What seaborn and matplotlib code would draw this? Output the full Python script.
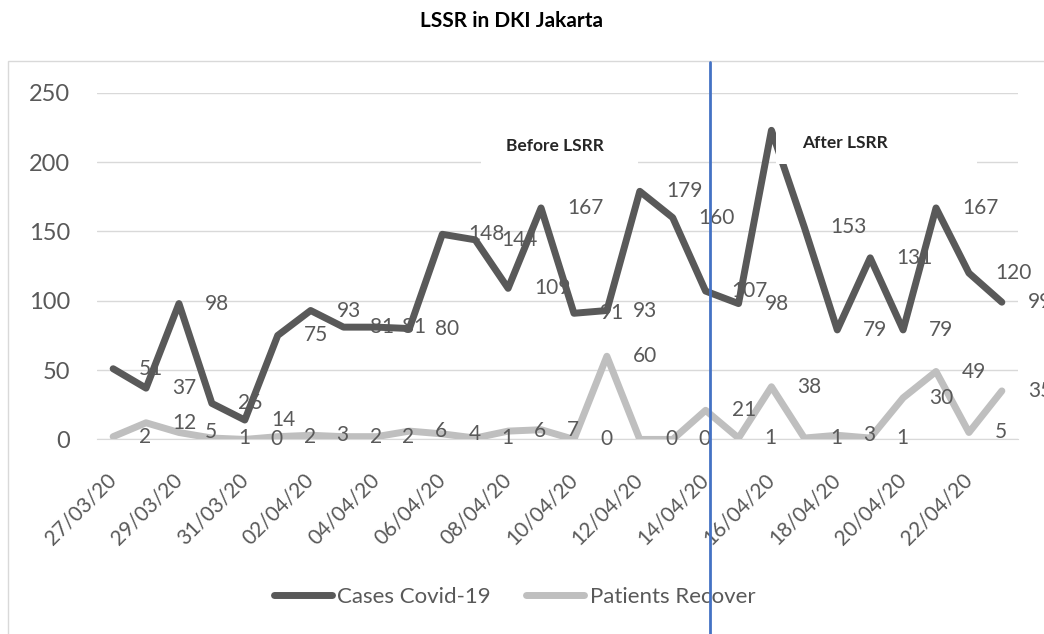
import matplotlib
matplotlib.use("Agg")
import matplotlib.pyplot as plt
import matplotlib.transforms as mtransforms
from matplotlib.lines import Line2D
from matplotlib.patches import Rectangle
import pandas as pd
import seaborn as sns

# --- data ---
dates = ["27/03/20", "28/03/20", "29/03/20", "30/03/20", "31/03/20", "01/04/20", "02/04/20",
         "03/04/20", "04/04/20", "05/04/20", "06/04/20", "07/04/20", "08/04/20", "09/04/20",
         "10/04/20", "11/04/20", "12/04/20", "13/04/20", "14/04/20", "15/04/20", "16/04/20",
         "17/04/20", "18/04/20", "19/04/20", "20/04/20", "21/04/20", "22/04/20", "23/04/20"]
cases = [51, 37, 98, 26, 14, 75, 93, 81, 81, 80, 148, 144, 109, 167,
         91, 93, 179, 160, 107, 98, 223, 153, 79, 131, 79, 167, 120, 99]
recover = [2, 12, 5, 1, 0, 2, 3, 2, 2, 6, 4, 1, 6, 7,
           0, 60, 0, 0, 21, 1, 38, 1, 3, 1, 30, 49, 5, 35]
series_names = ["Cases Covid-19", "Patients Recover"]

df = pd.DataFrame({
    "day": list(range(len(dates))) * 2,
    "value": cases + recover,
    "series": [series_names[0]] * len(dates) + [series_names[1]] * len(dates),
})

sns.set_style("white")
plt.rcParams["font.family"] = ["Lato", "DejaVu Sans"]

DARK = "#595959"
LIGHT = "#BFBFBF"
GRID = "#D9D9D9"
TXT = "#595959"

fig = plt.figure(figsize=(10.44, 6.34), dpi=100)
ax = fig.add_axes([0.0926, 0.3069, 0.8828, 0.5466])

sns.lineplot(data=df, x="day", y="value", hue="series",
             palette={series_names[0]: DARK, series_names[1]: LIGHT},
             linewidth=5, legend=False, ax=ax, zorder=3)

ax.set_xlim(-0.5, len(dates) - 0.5)
ax.set_ylim(0, 250)
ax.set_yticks(range(0, 251, 50))
ax.yaxis.grid(True, color=GRID, linewidth=1)
ax.set_axisbelow(True)
for s in ["top", "right", "left"]:
    ax.spines[s].set_visible(False)
ax.spines["bottom"].set_color(GRID)
ax.set_xlabel("")
ax.set_ylabel("")

# category labels every 2 days, tick marks on the boundaries
ax.set_xticks(range(0, len(dates), 2))
ax.set_xticklabels(dates[::2], rotation=45, ha="right", va="center",
                   rotation_mode="anchor", fontsize=15, color=TXT)
ax.set_xticks([i - 0.5 for i in range(0, len(dates) + 1, 2)], minor=True)
ax.tick_params(axis="x", which="major", length=0, pad=27)
ax.tick_params(axis="x", which="minor", length=7, color=GRID, width=1)
ax.tick_params(axis="y", length=0, pad=19, labelsize=17, labelcolor=TXT)

# data labels to the right of each point
for vals in (cases, recover):
    for i, v in enumerate(vals):
        ax.annotate(str(v), (i, v), xytext=(26, 0), textcoords="offset pixels",
                    ha="left", va="center", fontsize=15, color=TXT, zorder=4)

# white label boxes
ax.add_patch(Rectangle((11.18, 198.5), 4.77, 30, facecolor="white", edgecolor="none", zorder=5))
ax.add_patch(Rectangle((20.15, 198.5), 6.1, 36, facecolor="white", edgecolor="none", zorder=5))
ax.text(13.43, 211.5, "Before LSRR", ha="center", va="center", fontsize=12.5,
        fontweight="bold", color="#262626", zorder=6)
ax.text(22.22, 213.5, "After LSRR", ha="center", va="center", fontsize=12.5,
        fontweight="bold", color="#262626", zorder=6)

# separator line between before / after
trans = mtransforms.blended_transform_factory(ax.transData, fig.transFigure)
fig.add_artist(Line2D([18.14, 18.14], [0, 1 - 62 / 634], transform=trans,
                      color="#4472C4", linewidth=2, zorder=10))

# chart border
fig.add_artist(Rectangle((8 / 1044, -0.2), 1.2, 0.2 + 1 - 61 / 634, transform=fig.transFigure,
                         facecolor="none", edgecolor=GRID, linewidth=1, zorder=0))

fig.text(0.4904, 0.967, "LSSR in DKI Jakarta", ha="center", va="center",
         fontsize=15, fontweight="bold", color="#000000")

handles = [Line2D([], [], color=DARK, linewidth=5), Line2D([], [], color=LIGHT, linewidth=5)]
fig.legend(handles, series_names, loc="center", bbox_to_anchor=(0.493, 0.059), ncol=2,
           frameon=False, fontsize=16, handlelength=2.6, columnspacing=1.6,
           handletextpad=0.25, labelcolor=TXT)

fig.savefig("out.png", dpi=100)
